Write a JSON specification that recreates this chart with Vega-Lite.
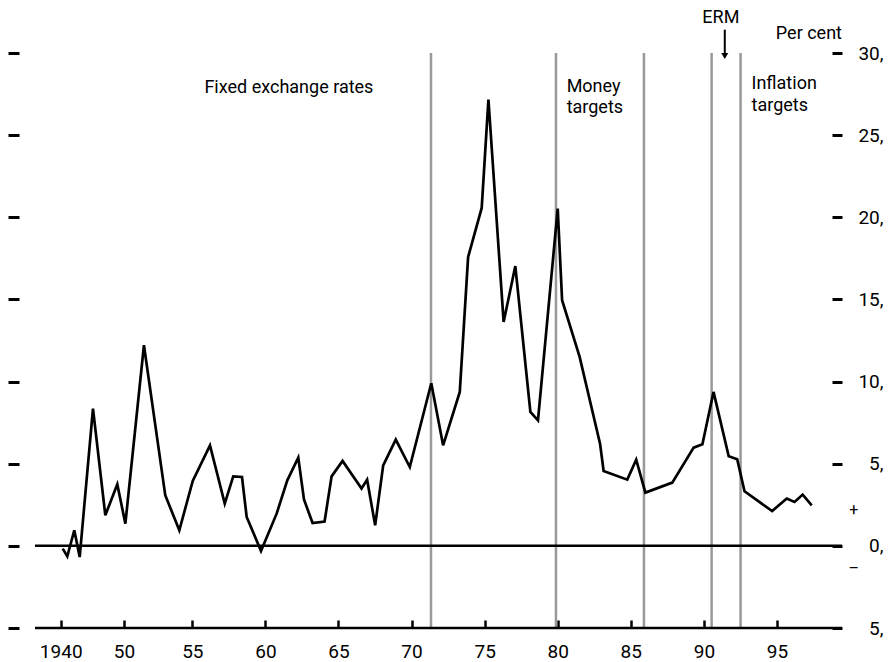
{
  "$schema": "https://vega.github.io/schema/vega-lite/v6.json",
  "width": 807,
  "height": 575,
  "autosize": {"type": "none"},
  "padding": {"left": 35, "top": 53, "right": 51, "bottom": 34},
  "config": {
    "view": {"stroke": null},
    "font": "Roboto",
    "text": {"font": "Roboto", "color": "black"},
    "axis": {"labelFont": "Roboto", "labelColor": "black", "tickColor": "black", "grid": false}
  },
  "resolve": {"axis": {"x": "independent", "y": "independent"}},
  "layer": [
    {
      "data": {"values": [{"year": 1971.33}, {"year": 1979.88}, {"year": 1985.9}, {"year": 1990.53}, {"year": 1992.51}]},
      "mark": {"type": "rule", "color": "#999999", "strokeWidth": 2.5},
      "encoding": {
        "x": {"field": "year", "type": "quantitative", "axis": null,
              "scale": {"type": "linear", "domain": [1935.94, 1950, 1955, 1999.45], "range": [0, 89, 157.3, 807], "nice": false, "zero": false}},
        "y": {"datum": -5, "type": "quantitative", "axis": null, "scale": {"domain": [-5, 30], "nice": false, "zero": false}},
        "y2": {"datum": 30}
      }
    },
    {
      "data": {"values": [{"level": 0}]},
      "mark": {"type": "rule", "color": "black", "strokeWidth": 2.5},
      "encoding": {
        "y": {"field": "level", "type": "quantitative", "scale": {"domain": [-5, 30], "nice": false, "zero": false},
              "axis": {"orient": "right", "offset": -10, "tickSize": 10, "tickWidth": 3, "domain": false, "grid": false,
                       "values": [-5, 0, 5, 10, 15, 20, 25, 30], "labelExpr": "abs(datum.value) + ','",
                       "labelAlign": "right", "labelPadding": 41, "labelFontSize": 19, "title": null}}
      }
    },
    {
      "data": {"values": [{"level": -5}]},
      "mark": {"type": "rule", "color": "black", "strokeWidth": 2.5},
      "encoding": {
        "y": {"field": "level", "type": "quantitative", "scale": {"domain": [-5, 30], "nice": false, "zero": false},
              "axis": {"orient": "left", "offset": 16, "tickSize": 11, "tickWidth": 3, "domain": false, "grid": false,
                       "labels": false, "values": [-5, 0, 5, 10, 15, 20, 25, 30], "title": null}}
      }
    },
    {
      "data": {"values": [
        {"year": 1940.32, "value": -0.17}, {"year": 1941.04, "value": -0.64}, {"year": 1942.15, "value": 0.95},
        {"year": 1943.0, "value": -0.68}, {"year": 1945.1, "value": 8.35}, {"year": 1947.05, "value": 1.86},
        {"year": 1948.94, "value": 3.75}, {"year": 1950.1, "value": 1.35}, {"year": 1951.46, "value": 12.21},
        {"year": 1953.02, "value": 3.08}, {"year": 1954.05, "value": 0.95}, {"year": 1955.03, "value": 3.95},
        {"year": 1956.21, "value": 6.12}, {"year": 1957.22, "value": 2.57}, {"year": 1957.8, "value": 4.23},
        {"year": 1958.4, "value": 4.19}, {"year": 1958.72, "value": 1.76}, {"year": 1959.7, "value": -0.31},
        {"year": 1960.77, "value": 1.96}, {"year": 1961.5, "value": 3.99}, {"year": 1962.25, "value": 5.37},
        {"year": 1962.64, "value": 2.82}, {"year": 1963.23, "value": 1.39}, {"year": 1964.05, "value": 1.48},
        {"year": 1964.53, "value": 4.23}, {"year": 1965.28, "value": 5.17}, {"year": 1966.58, "value": 3.49},
        {"year": 1966.96, "value": 4.03}, {"year": 1967.51, "value": 1.25}, {"year": 1968.06, "value": 4.9},
        {"year": 1968.92, "value": 6.47}, {"year": 1969.88, "value": 4.8}, {"year": 1971.35, "value": 9.9},
        {"year": 1972.16, "value": 6.12}, {"year": 1973.3, "value": 9.37}, {"year": 1973.87, "value": 17.58},
        {"year": 1974.8, "value": 20.57}, {"year": 1975.26, "value": 27.16}, {"year": 1976.3, "value": 13.63},
        {"year": 1977.1, "value": 17.03}, {"year": 1978.13, "value": 8.15}, {"year": 1978.65, "value": 7.64},
        {"year": 1980.0, "value": 20.53}, {"year": 1980.3, "value": 14.95}, {"year": 1981.5, "value": 11.5},
        {"year": 1982.9, "value": 6.2}, {"year": 1983.14, "value": 4.56}, {"year": 1984.76, "value": 4.03},
        {"year": 1985.37, "value": 5.25}, {"year": 1986.0, "value": 3.24}, {"year": 1987.84, "value": 3.85},
        {"year": 1989.3, "value": 5.98}, {"year": 1989.9, "value": 6.18}, {"year": 1990.66, "value": 9.37},
        {"year": 1991.7, "value": 5.45}, {"year": 1992.28, "value": 5.27}, {"year": 1992.78, "value": 3.32},
        {"year": 1994.67, "value": 2.12}, {"year": 1995.67, "value": 2.88}, {"year": 1996.2, "value": 2.67},
        {"year": 1996.76, "value": 3.12}, {"year": 1997.38, "value": 2.47}
      ]},
      "mark": {"type": "line", "color": "black", "strokeWidth": 2.7, "strokeJoin": "miter"},
      "encoding": {
        "x": {"field": "year", "type": "quantitative",
              "scale": {"type": "linear", "domain": [1935.94, 1950, 1955, 1999.45], "range": [0, 89, 157.3, 807], "nice": false, "zero": false},
              "axis": {"orient": "bottom", "offset": -8, "tickSize": 8, "tickWidth": 2.5, "domain": false, "grid": false,
                       "values": [1940, 1950, 1955, 1960, 1965, 1970, 1975, 1980, 1985, 1990, 1995],
                       "labelExpr": "datum.value == 1940 ? '1940' : slice(toString(datum.value), 2)",
                       "labelFontSize": 19, "labelPadding": 14, "labelFlush": false, "labelOverlap": false, "title": null}},
        "y": {"field": "value", "type": "quantitative", "axis": null, "scale": {"domain": [-5, 30], "nice": false, "zero": false}}
      }
    },
    {
      "data": {"values": [{"year": 1961.61, "value": 27.85, "label": "Fixed exchange rates"}]},
      "mark": {"type": "text", "align": "center", "baseline": "middle", "fontSize": 18},
      "encoding": {
        "x": {"field": "year", "type": "quantitative", "axis": null,
              "scale": {"type": "linear", "domain": [1935.94, 1950, 1955, 1999.45], "range": [0, 89, 157.3, 807], "nice": false, "zero": false}},
        "y": {"field": "value", "type": "quantitative", "axis": null, "scale": {"domain": [-5, 30], "nice": false, "zero": false}},
        "text": {"field": "label"}
      }
    },
    {
      "data": {"values": [
        {"year": 1980.61, "value": 27.91, "label": "Money"},
        {"year": 1980.61, "value": 26.63, "label": "targets"},
        {"year": 1993.26, "value": 28.09, "label": "Inflation"},
        {"year": 1993.26, "value": 26.75, "label": "targets"}
      ]},
      "mark": {"type": "text", "align": "left", "baseline": "middle", "fontSize": 18},
      "encoding": {
        "x": {"field": "year", "type": "quantitative", "axis": null,
              "scale": {"type": "linear", "domain": [1935.94, 1950, 1955, 1999.45], "range": [0, 89, 157.3, 807], "nice": false, "zero": false}},
        "y": {"field": "value", "type": "quantitative", "axis": null, "scale": {"domain": [-5, 30], "nice": false, "zero": false}},
        "text": {"field": "label"}
      }
    },
    {
      "data": {"values": [{"year": 1991.16, "value": 32.12, "label": "ERM"}]},
      "mark": {"type": "text", "align": "center", "baseline": "middle", "fontSize": 18},
      "encoding": {
        "x": {"field": "year", "type": "quantitative", "axis": null,
              "scale": {"type": "linear", "domain": [1935.94, 1950, 1955, 1999.45], "range": [0, 89, 157.3, 807], "nice": false, "zero": false}},
        "y": {"field": "value", "type": "quantitative", "axis": null, "scale": {"domain": [-5, 30], "nice": false, "zero": false}},
        "text": {"field": "label"}
      }
    },
    {
      "data": {"values": [{"year": 1999.45, "value": 31.14, "label": "Per cent"}]},
      "mark": {"type": "text", "align": "right", "baseline": "middle", "fontSize": 18},
      "encoding": {
        "x": {"field": "year", "type": "quantitative", "axis": null,
              "scale": {"type": "linear", "domain": [1935.94, 1950, 1955, 1999.45], "range": [0, 89, 157.3, 807], "nice": false, "zero": false}},
        "y": {"field": "value", "type": "quantitative", "axis": null, "scale": {"domain": [-5, 30], "nice": false, "zero": false}},
        "text": {"field": "label"}
      }
    },
    {
      "data": {"values": [{"year": 2000.26, "value": 2.16, "label": "+"}, {"year": 2000.26, "value": -1.43, "label": "–"}]},
      "mark": {"type": "text", "align": "center", "baseline": "middle", "fontSize": 16},
      "encoding": {
        "x": {"field": "year", "type": "quantitative", "axis": null,
              "scale": {"type": "linear", "domain": [1935.94, 1950, 1955, 1999.45], "range": [0, 89, 157.3, 807], "nice": false, "zero": false}},
        "y": {"field": "value", "type": "quantitative", "axis": null, "scale": {"domain": [-5, 30], "nice": false, "zero": false}},
        "text": {"field": "label"}
      }
    },
    {
      "data": {"values": [{"year": 1991.43, "top": 31.42, "bottom": 29.98}]},
      "mark": {"type": "rule", "color": "black", "strokeWidth": 2},
      "encoding": {
        "x": {"field": "year", "type": "quantitative", "axis": null,
              "scale": {"type": "linear", "domain": [1935.94, 1950, 1955, 1999.45], "range": [0, 89, 157.3, 807], "nice": false, "zero": false}},
        "y": {"field": "top", "type": "quantitative", "axis": null, "scale": {"domain": [-5, 30], "nice": false, "zero": false}},
        "y2": {"field": "bottom"}
      }
    },
    {
      "data": {"values": [{"year": 1991.43, "value": 29.82}]},
      "mark": {"type": "point", "shape": "triangle-down", "filled": true, "color": "black", "size": 50, "opacity": 1},
      "encoding": {
        "x": {"field": "year", "type": "quantitative", "axis": null,
              "scale": {"type": "linear", "domain": [1935.94, 1950, 1955, 1999.45], "range": [0, 89, 157.3, 807], "nice": false, "zero": false}},
        "y": {"field": "value", "type": "quantitative", "axis": null, "scale": {"domain": [-5, 30], "nice": false, "zero": false}}
      }
    }
  ]
}
